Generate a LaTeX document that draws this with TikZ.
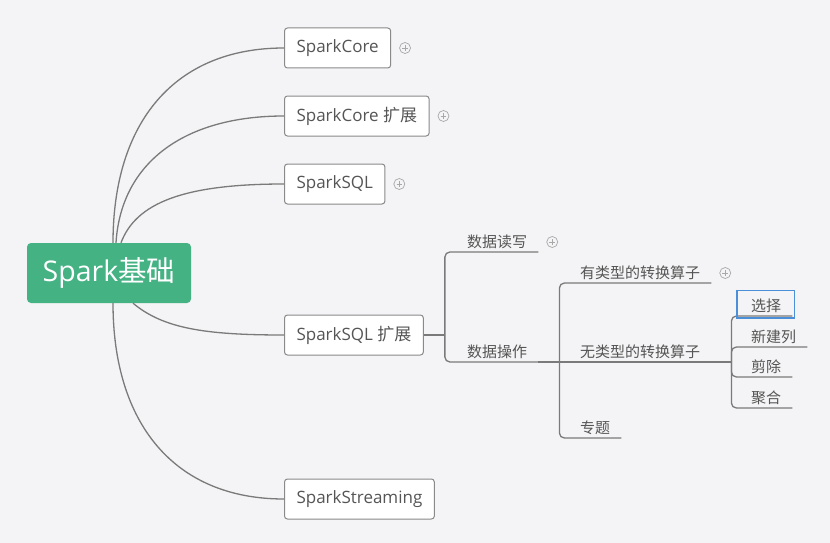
\documentclass[tikz,border=0pt]{standalone}
\usepackage{fontspec}
\setmainfont{Open Sans}
\newfontfamily\cjk{Noto Sans CJK SC}
\usetikzlibrary{positioning}
\definecolor{MapBack}{HTML}{F4F3F5}
\definecolor{MapGreen}{HTML}{45B284}
\definecolor{MapLine}{HTML}{7A7A7A}
\definecolor{MapText}{HTML}{555555}
\definecolor{MapFrame}{HTML}{8A8A8A}
\definecolor{MapIcon}{HTML}{A8A8A8}
\definecolor{MapSelect}{HTML}{4A8FD8}

\begin{document}
\begin{tikzpicture}[x=1pt,y=-1pt,
    root/.style={fill=MapGreen,rounded corners=4pt,minimum width=164pt,
      minimum height=60pt,text=white,font=\fontsize{28.5}{31}\selectfont},
    topic/.style={draw=MapFrame,line width=1pt,rounded corners=3pt,fill=white,
      anchor=west,minimum height=40pt,inner xsep=12pt,text=MapText,
      font=\fontsize{17}{19}\selectfont},
    subtopic/.style={anchor=south west,inner xsep=11pt,inner ysep=2.8pt,
      text height=11pt,text depth=1.5pt,text=MapText,
      font=\cjk\fontsize{15}{17}\selectfont},
    branch/.style={draw=MapLine,line width=1.3pt},
    bracket/.style={branch,rounded corners=5pt},
    selframe/.style={draw=MapSelect,line width=1.5pt},
    collapsed/.style={circle,draw=MapIcon,line width=0.7pt,minimum size=11pt,
      inner sep=0pt,path picture={
        \draw[MapIcon,line width=0.7pt]
          ([xshift=-2.8pt]path picture bounding box.center) --
          ([xshift=2.8pt]path picture bounding box.center)
          ([yshift=-2.8pt]path picture bounding box.center) --
          ([yshift=2.8pt]path picture bounding box.center);}}
  ]
    \fill[MapBack] (0,0) rectangle (830,543);
    \useasboundingbox (0,0) rectangle (830,543);

    % central topic
    \node[root] (root) at (109,273) {Spark{\cjk 基础}};

    % main topics
    \node[topic] (core) at (284,48) {SparkCore};
    \node[topic] (coreext) at (284,116) {SparkCore {\cjk 扩展}};
    \node[topic] (sql) at (284,184) {SparkSQL};
    \node[topic] (sqlext) at (284,335) {SparkSQL {\cjk 扩展}};
    \node[topic] (streaming) at (284,499) {SparkStreaming};

    \node[collapsed,right=8pt of core] (corefold) {};
    \node[collapsed,right=8pt of coreext] (coreextfold) {};
    \node[collapsed,right=8pt of sql] (sqlfold) {};

    \draw[branch] ([xshift=4pt]root.north) .. controls +(0,-120) and +(-110,0) .. (core.west);
    \draw[branch] ([xshift=7pt]root.north) .. controls +(5,-80) and +(-100,0) .. (coreext.west);
    \draw[branch] ([xshift=12pt]root.north) .. controls +(15,-40) and +(-100,0) .. (sql.west);
    \draw[branch] ([xshift=24pt]root.south) .. controls +(30,25) and +(-80,0) .. (sqlext.west);
    \draw[branch] ([xshift=4pt]root.south) .. controls +(0,120) and +(-110,0) .. (streaming.west);

    % SparkSQL extension
    \node[subtopic] (readwrite) at (456,252) {数据读写};
    \node[subtopic] (dataop) at (456,362) {数据操作};
    \node[collapsed,right=8pt of readwrite.south east,anchor=west,yshift=10pt] (rwfold) {};

    \path (sqlext.east) ++(21,0) coordinate (j1);
    \draw[branch] (sqlext.east) -- (j1);
    \draw[bracket] (j1) |- (readwrite.south east);
    \draw[bracket] (j1) |- (dataop.south east);

    % data operations
    \node[subtopic] (typed) at (569,283) {有类型的转换算子};
    \node[subtopic] (untyped) at (569,362) {无类型的转换算子};
    \node[subtopic] (special) at (569,438) {专题};
    \node[collapsed,right=8pt of typed.south east,anchor=west,yshift=10pt] (typedfold) {};

    \path (dataop.south east) ++(21,0) coordinate (j2);
    \draw[branch] (dataop.south east) -- (j2);
    \draw[bracket] (j2) |- (typed.south east);
    \draw[bracket] (j2) -- (untyped.south east);
    \draw[bracket] (j2) |- (special.south east);

    % untyped operators
    \node[subtopic] (select) at (740,316) {选择};
    \node[subtopic] (newcol) at (740,347) {新建列};
    \node[subtopic] (drop) at (740,377) {剪除};
    \node[subtopic] (agg) at (740,408) {聚合};

    \path (untyped.south east) ++(20,0) coordinate (j3);
    \draw[branch] (untyped.south east) -- (j3);
    \draw[bracket] (j3) |- (select.south east);
    \draw[bracket] (j3) |- (newcol.south east);
    \draw[bracket] (j3) |- (drop.south east);
    \draw[bracket] (j3) |- (agg.south east);

    \draw[selframe] ([xshift=-3pt,yshift=-2pt]select.south west) rectangle ([xshift=2pt,yshift=7pt]select.north east);
\end{tikzpicture}
\end{document}
